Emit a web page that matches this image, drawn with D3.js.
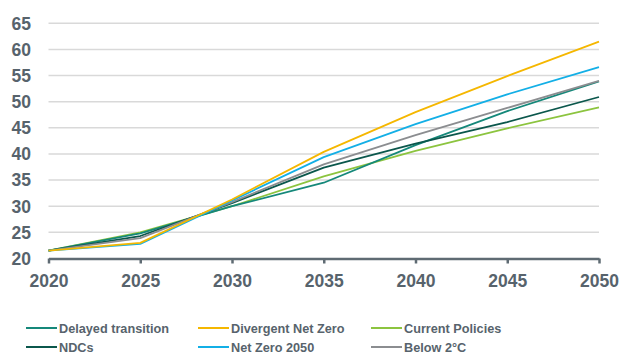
<!DOCTYPE html>
<html>
<head>
<meta charset="utf-8">
<script src="https://cdn.jsdelivr.net/npm/d3@7"></script>
<style>
  html, body { margin: 0; padding: 0; background: #fff; }
  svg { display: block; }
  text { font-family: "Liberation Sans", Arial, sans-serif; font-weight: bold; fill: #57636c; }
</style>
</head>
<body>
<svg id="chart" width="622" height="356"></svg>
<script>
// Scenario trajectories, sampled every five years
const years = [2020, 2025, 2030, 2035, 2040, 2045, 2050];
const delayedTransition = [21.5, 24.8, 30.0, 34.5, 41.7, 48.2, 53.9];
const divergentNetZero  = [21.5, 23.0, 31.3, 40.4, 48.0, 54.9, 61.5];
const currentPolicies   = [21.5, 25.0, 30.0, 35.7, 40.6, 44.9, 48.9];
const ndcs              = [21.5, 24.3, 30.6, 37.4, 42.0, 46.1, 50.9];
const netZero2050       = [21.5, 22.8, 31.1, 39.4, 45.7, 51.4, 56.6];
const below2C           = [21.5, 23.9, 30.8, 38.0, 43.6, 48.8, 54.0];

const seriesNames  = ["Delayed transition", "Divergent Net Zero", "Current Policies", "NDCs", "Net Zero 2050", "Below 2°C"];
const seriesValues = [delayedTransition, divergentNetZero, currentPolicies, ndcs, netZero2050, below2C];
const seriesColors = ["#15887a", "#f5b700", "#8cc43f", "#0b574c", "#13afe6", "#8b8d90"];
// Draw order (back to front)
const drawOrder = [2, 0, 3, 5, 4, 1];

const yTicks = [20, 25, 30, 35, 40, 45, 50, 55, 60, 65];
const xTicks = [2020, 2025, 2030, 2035, 2040, 2045, 2050];

const svg = d3.select("#chart");
const x = d3.scaleLinear().domain([2020, 2050]).range([48.5, 599]);
const y = d3.scaleLinear().domain([20, 65]).range([258.5, 23.3]);

// Horizontal gridlines
svg.append("g").selectAll("line").data(yTicks.filter(t => t > 20)).join("line")
  .attr("x1", x(2020)).attr("x2", x(2050))
  .attr("y1", d => y(d)).attr("y2", d => y(d))
  .attr("stroke", "#d9d9d9").attr("stroke-width", 1.5);

// Y labels
svg.append("g").selectAll("text").data(yTicks).join("text")
  .attr("x", 31).attr("y", d => y(d)).attr("dy", "0.36em")
  .attr("text-anchor", "end").attr("font-size", 17.5)
  .text(d => d);

// X axis
const xAxis = d3.axisBottom(x).tickValues(xTicks).tickFormat(d3.format("d")).tickSize(5).tickSizeOuter(0);
const gx = svg.append("g").attr("transform", `translate(0,${y(20)})`).call(xAxis);
gx.select(".domain").attr("stroke", "#5f6b73").attr("stroke-width", 2.5);
gx.selectAll(".tick line").attr("stroke", "#5f6b73").attr("stroke-width", 2.5);
gx.selectAll(".tick text").attr("font-size", 17.5).attr("dy", 0).attr("y", 28)
  .attr("font-family", "Liberation Sans, Arial, sans-serif").attr("font-weight", "bold").attr("fill", "#57636c");

// Series lines
const line = d3.line().x((d, i) => x(years[i])).y(d => y(d));
svg.append("g").selectAll("path").data(drawOrder).join("path")
  .attr("d", i => line(seriesValues[i]))
  .attr("fill", "none")
  .attr("stroke", i => seriesColors[i])
  .attr("stroke-width", 1.8)
  .attr("stroke-linejoin", "round");

// Legend: three columns, two rows
const legendCols = [26, 198, 371];
const legendRows = [328, 347];
const legend = svg.append("g").selectAll("g").data(seriesNames).join("g")
  .attr("transform", (d, i) => `translate(${legendCols[i % 3]},${legendRows[Math.floor(i / 3)]})`);
legend.append("line").attr("x1", 0).attr("x2", 31).attr("y1", 0).attr("y2", 0)
  .attr("stroke", (d, i) => seriesColors[i]).attr("stroke-width", 2);
legend.append("text").attr("x", 33).attr("y", 0).attr("dy", "0.36em")
  .attr("font-size", 12.7).text(d => d);
</script>
</body>
</html>
